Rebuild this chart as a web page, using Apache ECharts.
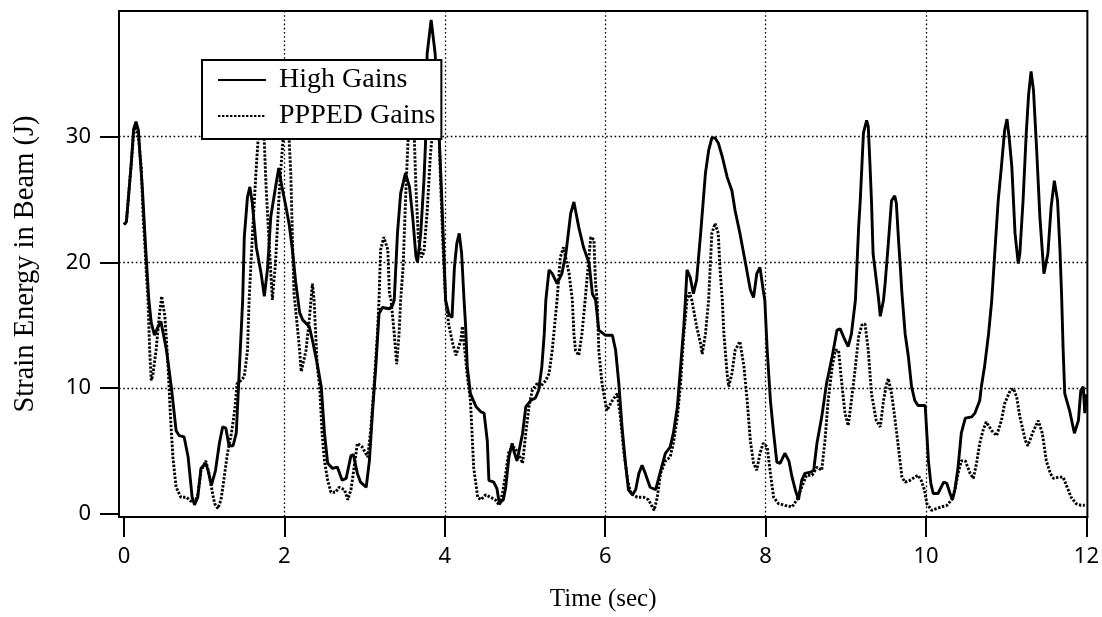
<!DOCTYPE html>
<html><head><meta charset="utf-8">
<script src="https://cdn.jsdelivr.net/npm/echarts@6/dist/echarts.min.js"></script>
<style>html,body{margin:0;padding:0;background:#fff}#c{width:1102px;height:617px}</style>
</head><body><div id="c"></div><script>
const xTicks = [0, 2, 4, 6, 8, 10, 12];
const yTicks = [0, 10, 20, 30];
const xGridLines = [2, 4, 6, 8, 10];
const yGridLines = [10, 20, 30];
const seriesNames = ['High Gains', 'PPPED Gains'];
const xTitle = 'Time (sec)';
const yTitle = 'Strain Energy in Beam (J)';

// [time (sec), strain energy (J)]
const highGains = [
[0.00,23.0],[0.03,23.2],[0.06,25.5],[0.09,27.8],[0.12,30.6],[0.15,31.2],[0.18,30.5],[0.20,28.5],[0.23,25.8],[0.27,21.2],
[0.31,17.0],[0.34,15.2],[0.38,14.2],[0.42,14.8],[0.46,15.3],[0.50,14.0],[0.53,13.0],[0.59,10.1],[0.65,6.6],[0.69,6.2],
[0.75,6.1],[0.80,4.5],[0.85,1.3],[0.88,0.7],[0.92,1.3],[0.96,3.6],[1.02,4.0],[1.05,3.4],[1.09,2.25],[1.14,3.4],
[1.19,5.6],[1.23,6.9],[1.27,6.8],[1.31,5.4],[1.36,5.4],[1.40,6.4],[1.42,9.0],[1.44,11.7],[1.46,14.3],[1.48,17.0],
[1.50,22.0],[1.54,25.2],[1.57,26.0],[1.60,24.7],[1.65,21.2],[1.71,19.1],[1.75,17.3],[1.79,19.5],[1.83,23.6],[1.89,26.0],
[1.93,27.5],[1.97,26.0],[2.02,24.4],[2.06,23.0],[2.10,21.0],[2.14,18.5],[2.19,16.0],[2.23,15.4],[2.31,14.9],[2.35,13.8],
[2.41,11.9],[2.46,10.1],[2.50,6.4],[2.54,4.0],[2.60,3.6],[2.66,3.7],[2.72,2.65],[2.77,2.8],[2.83,4.6],[2.86,4.7],
[2.91,3.2],[2.95,2.5],[3.02,2.1],[3.06,4.2],[3.10,8.2],[3.14,11.7],[3.18,15.9],[3.22,16.4],[3.31,16.3],[3.35,16.6],
[3.37,17.0],[3.41,22.3],[3.45,25.5],[3.51,27.1],[3.56,26.0],[3.60,23.6],[3.64,20.5],[3.66,20.0],[3.70,22.3],[3.74,26.5],
[3.76,29.5],[3.78,36.6],[3.83,39.3],[3.85,39.4],[3.88,36.6],[3.93,30.0],[3.96,25.5],[3.99,20.5],[4.01,17.0],[4.05,15.9],
[4.09,15.6],[4.12,19.6],[4.15,21.5],[4.18,22.3],[4.21,20.7],[4.24,17.0],[4.26,14.9],[4.28,11.7],[4.32,9.55],[4.39,8.5],
[4.45,8.1],[4.49,8.0],[4.53,5.8],[4.55,2.65],[4.61,2.5],[4.65,2.0],[4.68,0.8],[4.73,1.1],[4.76,2.1],[4.80,4.5],
[4.84,5.6],[4.86,5.0],[4.90,4.2],[4.92,4.8],[4.97,6.4],[5.01,8.5],[5.07,9.0],[5.13,9.2],[5.17,9.8],[5.21,11.7],
[5.24,14.3],[5.26,17.0],[5.30,19.4],[5.34,19.1],[5.40,18.3],[5.46,19.1],[5.51,20.7],[5.57,23.9],[5.61,24.8],[5.67,22.8],
[5.73,21.2],[5.80,19.9],[5.84,17.5],[5.88,17.0],[5.92,14.6],[6.00,14.2],[6.09,14.2],[6.13,13.0],[6.17,10.35],[6.21,6.9],
[6.25,4.2],[6.29,1.9],[6.34,1.5],[6.38,1.9],[6.42,3.2],[6.46,3.85],[6.50,3.2],[6.56,2.1],[6.63,1.9],[6.67,2.9],
[6.75,4.8],[6.81,5.3],[6.85,6.4],[6.90,8.5],[6.94,11.7],[6.98,14.9],[7.00,17.0],[7.02,19.4],[7.06,18.8],[7.10,17.5],
[7.14,18.6],[7.19,22.3],[7.25,27.1],[7.29,28.9],[7.33,29.9],[7.37,29.9],[7.41,29.5],[7.46,28.4],[7.52,26.8],[7.58,25.7],
[7.62,24.1],[7.68,22.3],[7.75,19.9],[7.81,17.8],[7.85,17.2],[7.89,19.1],[7.93,19.6],[7.97,17.8],[7.99,17.0],[8.02,13.0],
[8.06,9.0],[8.10,6.4],[8.14,4.1],[8.18,4.0],[8.24,4.8],[8.29,4.2],[8.33,2.9],[8.37,1.9],[8.41,1.1],[8.45,2.65],
[8.49,3.2],[8.56,3.3],[8.60,3.45],[8.64,5.6],[8.70,7.7],[8.76,10.35],[8.83,12.5],[8.89,14.6],[8.93,14.7],[8.99,13.8],
[9.03,13.3],[9.07,14.3],[9.12,17.0],[9.16,22.8],[9.18,24.9],[9.20,27.6],[9.22,30.3],[9.26,31.3],[9.28,30.8],[9.30,28.0],
[9.32,24.9],[9.34,20.7],[9.38,18.6],[9.41,17.0],[9.43,15.7],[9.47,17.0],[9.49,18.3],[9.53,21.5],[9.57,24.9],[9.61,25.3],
[9.63,24.7],[9.66,21.5],[9.68,19.6],[9.70,17.5],[9.74,14.3],[9.78,12.5],[9.82,10.1],[9.86,9.0],[9.90,8.6],[9.99,8.6],
[10.01,6.4],[10.03,4.2],[10.06,2.4],[10.09,1.6],[10.15,1.6],[10.22,2.5],[10.26,2.4],[10.30,1.6],[10.33,1.1],[10.36,1.9],
[10.40,3.7],[10.44,6.4],[10.49,7.6],[10.57,7.7],[10.61,8.0],[10.67,9.0],[10.69,10.1],[10.73,11.7],[10.78,14.3],[10.82,17.0],
[10.86,21.0],[10.90,24.9],[10.94,27.6],[10.98,30.5],[11.01,31.4],[11.04,29.7],[11.07,27.6],[11.11,22.3],[11.15,19.9],[11.17,20.7],
[11.21,24.9],[11.25,30.3],[11.28,33.4],[11.31,35.2],[11.34,33.7],[11.38,28.9],[11.42,23.6],[11.47,19.1],[11.52,20.7],[11.56,24.4],
[11.60,26.5],[11.64,24.9],[11.67,21.0],[11.69,17.5],[11.71,13.0],[11.73,9.55],[11.79,8.2],[11.85,6.4],[11.90,7.4],[11.93,9.8],
[11.96,10.1],[11.98,8.0],[12.00,9.5]
];

const ppped = [
[0.00,23.0],[0.03,23.2],[0.06,25.5],[0.09,27.8],[0.12,30.2],[0.15,30.8],[0.18,30.0],[0.215,27.6],[0.24,23.5],[0.26,21.5],
[0.28,19.1],[0.30,17.0],[0.32,13.0],[0.34,10.6],[0.36,11.0],[0.40,13.0],[0.44,15.7],[0.47,17.3],[0.51,15.7],[0.55,11.7],
[0.58,7.7],[0.61,4.5],[0.65,2.1],[0.71,1.3],[0.78,1.3],[0.83,1.0],[0.88,0.9],[0.92,1.5],[0.96,3.4],[1.02,4.2],
[1.06,3.2],[1.09,2.1],[1.13,0.8],[1.17,0.4],[1.21,1.1],[1.25,2.9],[1.29,4.8],[1.34,6.4],[1.38,8.2],[1.41,10.35],
[1.46,10.6],[1.50,10.9],[1.54,13.0],[1.56,17.0],[1.60,22.0],[1.65,27.6],[1.67,29.5],[1.70,32.0],[1.73,31.5],[1.75,29.5],
[1.77,26.3],[1.81,21.5],[1.85,17.0],[1.89,20.0],[1.94,26.0],[1.98,29.5],[2.02,32.0],[2.05,31.0],[2.08,27.0],[2.10,22.0],
[2.12,17.5],[2.16,15.0],[2.19,13.0],[2.21,11.3],[2.27,13.0],[2.31,15.4],[2.35,18.3],[2.37,17.0],[2.39,14.3],[2.41,11.7],
[2.44,10.1],[2.47,6.4],[2.50,4.2],[2.54,2.65],[2.58,1.7],[2.64,1.7],[2.68,2.1],[2.75,1.9],[2.79,1.1],[2.83,1.9],
[2.87,3.7],[2.91,5.6],[2.97,5.3],[3.04,4.5],[3.08,6.9],[3.12,10.35],[3.16,14.3],[3.18,17.0],[3.20,21.0],[3.24,22.0],
[3.29,21.0],[3.31,17.5],[3.33,17.0],[3.37,14.3],[3.40,11.9],[3.43,14.3],[3.45,17.0],[3.48,19.6],[3.51,24.9],[3.54,29.5],
[3.58,32.5],[3.62,30.0],[3.64,26.0],[3.67,22.0],[3.71,20.4],[3.74,20.8],[3.78,24.0],[3.82,28.5],[3.85,30.5],[3.89,32.0],
[3.93,30.0],[3.95,26.0],[3.98,21.0],[4.01,17.0],[4.05,15.0],[4.10,13.5],[4.14,12.6],[4.20,13.8],[4.22,14.9],[4.28,11.0],
[4.32,9.0],[4.34,6.4],[4.36,3.7],[4.41,1.3],[4.45,1.1],[4.51,1.5],[4.57,1.3],[4.63,1.1],[4.68,0.66],[4.72,1.6],
[4.76,3.2],[4.80,5.0],[4.86,5.3],[4.92,4.8],[4.97,4.0],[5.01,6.4],[5.05,8.5],[5.09,9.8],[5.15,10.35],[5.19,10.1],
[5.26,10.6],[5.30,11.15],[5.34,13.0],[5.38,15.7],[5.40,17.0],[5.44,20.4],[5.48,21.2],[5.55,19.1],[5.59,17.0],[5.61,14.3],
[5.63,13.0],[5.67,12.6],[5.71,14.3],[5.75,17.0],[5.82,22.0],[5.86,21.8],[5.88,18.3],[5.90,17.0],[5.92,13.0],[5.96,10.35],
[6.02,8.2],[6.09,9.0],[6.15,9.55],[6.19,7.7],[6.23,5.0],[6.28,2.65],[6.32,1.6],[6.40,1.3],[6.48,1.3],[6.54,1.1],
[6.61,0.26],[6.65,1.3],[6.69,3.2],[6.75,4.2],[6.81,4.5],[6.85,5.6],[6.90,7.7],[6.94,10.35],[6.98,14.3],[7.02,17.0],
[7.05,17.6],[7.08,17.0],[7.14,14.9],[7.19,13.5],[7.21,12.7],[7.25,14.3],[7.29,17.0],[7.33,22.3],[7.37,23.1],[7.41,22.3],
[7.43,19.6],[7.46,17.0],[7.48,14.3],[7.52,11.15],[7.54,10.1],[7.58,11.15],[7.62,13.0],[7.68,13.7],[7.73,11.7],[7.77,9.0],
[7.81,5.8],[7.85,4.0],[7.89,3.45],[7.93,4.8],[7.97,5.6],[8.02,5.3],[8.06,3.2],[8.10,1.3],[8.16,0.8],[8.24,0.66],
[8.33,0.53],[8.39,1.1],[8.45,2.1],[8.51,3.05],[8.58,3.05],[8.64,3.7],[8.70,3.45],[8.74,5.8],[8.78,9.0],[8.83,11.7],
[8.87,13.0],[8.91,13.0],[8.95,10.35],[8.99,8.0],[9.03,7.0],[9.07,9.0],[9.12,11.7],[9.16,14.1],[9.20,15.0],[9.24,15.1],
[9.28,13.0],[9.32,9.55],[9.38,7.4],[9.43,6.9],[9.47,9.0],[9.51,10.35],[9.53,10.75],[9.57,9.55],[9.61,7.7],[9.65,5.6],
[9.70,2.9],[9.74,2.5],[9.80,2.65],[9.86,2.9],[9.90,3.05],[9.94,2.65],[9.98,1.9],[10.01,0.8],[10.07,0.26],[10.13,0.4],
[10.19,0.53],[10.26,0.66],[10.32,1.1],[10.36,1.9],[10.40,3.2],[10.44,4.2],[10.49,4.2],[10.55,3.2],[10.59,2.8],[10.63,4.0],
[10.67,5.6],[10.71,6.6],[10.75,7.3],[10.82,6.6],[10.88,6.2],[10.94,7.4],[10.98,8.75],[11.05,9.8],[11.09,9.95],[11.13,9.3],
[11.17,7.7],[11.24,5.8],[11.27,5.4],[11.34,6.6],[11.40,7.4],[11.45,6.4],[11.50,4.2],[11.55,3.2],[11.59,2.8],[11.65,2.9],
[11.71,2.9],[11.75,2.25],[11.81,1.3],[11.87,0.8],[11.93,0.66],[11.98,0.66]
];

const chart = echarts.init(document.getElementById('c'), null, {renderer: 'canvas'});
const serif = 'Liberation Serif';
const sans = 'Noto Sans';
const X_MIN = -0.062, X_MAX = 12.012, Y_MIN = -0.27, Y_MAX = 40;
const gridLineStyle = {color: '#000', width: 1.3, type: [1.6, 2.6]};
chart.setOption({
  animation: false,
  backgroundColor: '#fff',
  grid: {left: 119, right: 13, top: 11, bottom: 100, show: true, borderColor: '#000', borderWidth: 2, backgroundColor: 'transparent'},
  legend: {
    data: seriesNames,
    orient: 'vertical',
    left: 202, top: 60,
    padding: [6, 6, 9, 15],
    itemGap: 8,
    itemWidth: 48, itemHeight: 14,
    backgroundColor: '#fff',
    borderColor: '#000', borderWidth: 2, borderRadius: 0,
    itemStyle: {opacity: 0},
    textStyle: {fontFamily: serif, fontSize: 28, color: '#000', padding: [0, 0, 0, 8]},
    z: 10
  },
  xAxis: [{
    type: 'value', min: X_MIN, max: X_MAX,
    name: xTitle, nameLocation: 'middle', nameGap: 70,
    nameTextStyle: {fontFamily: serif, fontSize: 25, color: '#000'},
    axisLine: {show: true, onZero: false, lineStyle: {color: '#000', width: 2}},
    axisTick: {show: true, inside: false, length: 20, customValues: xTicks, lineStyle: {color: '#000', width: 2}},
    axisLabel: {customValues: xTicks, margin: 29, fontFamily: sans, fontSize: 22, color: '#000'},
    splitLine: {show: false}
  }, {
    type: 'value', min: X_MIN, max: X_MAX, position: 'top',
    axisLine: {show: false, onZero: false},
    axisTick: {show: false, customValues: xGridLines},
    axisLabel: {show: false, customValues: xGridLines},
    splitLine: {show: true, lineStyle: gridLineStyle}
  }],
  yAxis: [{
    type: 'value', min: Y_MIN, max: Y_MAX,
    name: yTitle, nameLocation: 'middle', nameGap: 79,
    nameTextStyle: {fontFamily: serif, fontSize: 28.5, color: '#000'},
    axisLine: {show: true, onZero: false, lineStyle: {color: '#000', width: 2}},
    axisTick: {show: true, inside: false, length: 19, customValues: yTicks, lineStyle: {color: '#000', width: 2}},
    axisLabel: {customValues: yTicks, margin: 28, fontFamily: sans, fontSize: 22, color: '#000'},
    splitLine: {show: false}
  }, {
    type: 'value', min: Y_MIN, max: Y_MAX, position: 'right',
    axisLine: {show: false, onZero: false},
    axisTick: {show: false, customValues: yGridLines},
    axisLabel: {show: false, customValues: yGridLines},
    splitLine: {show: true, lineStyle: gridLineStyle}
  }],
  series: [
    {
      name: seriesNames[1], type: 'line', data: ppped, showSymbol: false, symbol: 'none', z: 2,
      lineStyle: {color: '#000', width: 2.9, type: [2.4, 1.6]}, itemStyle: {color: '#000'}
    },
    {
      name: seriesNames[0], type: 'line', data: highGains, showSymbol: false, symbol: 'none', z: 3,
      lineStyle: {color: '#000', width: 2.9, type: 'solid'}, itemStyle: {color: '#000'}
    }
  ]
});
</script></body></html>
